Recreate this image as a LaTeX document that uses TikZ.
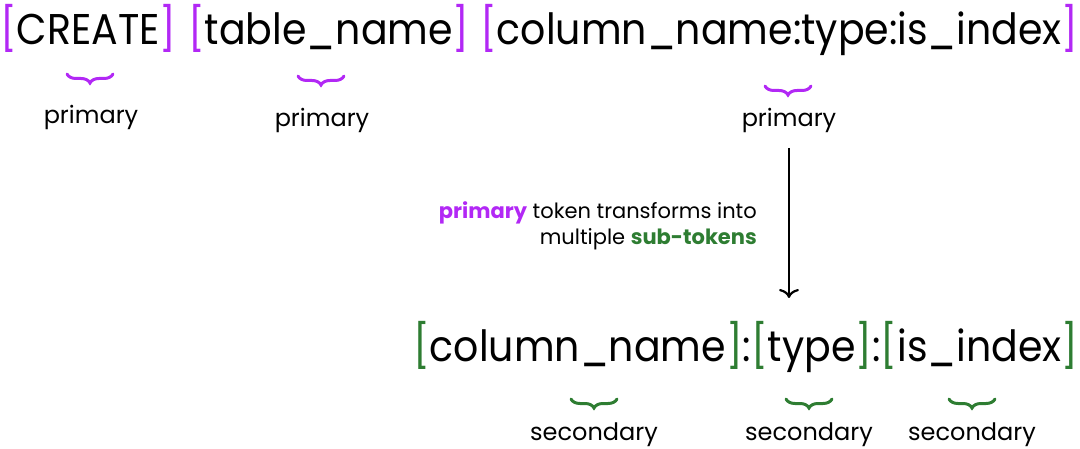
\documentclass[tikz,border=0pt]{standalone}
\usepackage{fontspec}
\setmainfont{Poppins}
\newfontfamily\bigfont[FakeStretch=0.918]{Poppins}
\usetikzlibrary{decorations.pathreplacing,arrows.meta}
\definecolor{pur}{RGB}{178,40,245}
\definecolor{grn}{RGB}{46,125,50}
\begin{document}
\begin{tikzpicture}[x=1pt,y=-1pt,
  big/.style={font=\bigfont\fontsize{43}{50}\selectfont, inner sep=0pt, anchor=base west},
  lbl/.style={font=\fontsize{24}{28}\selectfont, inner sep=0pt, anchor=base},
  note/.style={font=\fontsize{21}{26}\selectfont, inner sep=0pt, align=right},
  pbrace/.style={draw=pur, line width=3pt, line cap=round, decorate, decoration={brace, amplitude=9pt, aspect=0.5, mirror}},
  gbrace/.style={draw=grn, line width=3pt, line cap=round, decorate, decoration={brace, amplitude=9pt, aspect=0.5, mirror}},
  arr/.style={line width=2.2pt, -{To[length=9pt,width=20pt,line width=2.2pt]}}
]
\useasboundingbox (0,0) rectangle (1080,449);
\node[big] (t1) at (0,45) {\textcolor{pur}{[}CREATE\textcolor{pur}{]}};
\node[big] (t2) at (188,45) {\textcolor{pur}{[}table\_name\textcolor{pur}{]}};
\node[big] (t3) at (480,45) {\textcolor{pur}{[}column\_name:type:is\_index\textcolor{pur}{]}};
\node[lbl] (p1) at (91,124) {primary};
\node[lbl] (p2) at (322,127) {primary};
\node[lbl] (p3) at (789,127) {primary};
\coordinate (b1l) at (67,74); \coordinate (b1r) at (113,74);
\coordinate (b2l) at (298,76); \coordinate (b2r) at (344,76);
\coordinate (b3l) at (765,86); \coordinate (b3r) at (811,86);
\draw[pbrace] (b1l) -- (b1r);
\draw[pbrace] (b2l) -- (b2r);
\draw[pbrace] (b3l) -- (b3r);
\coordinate (a1) at (789,148);
\coordinate (a2) at (789,298);
\draw[arr] (a1) -- (a2);
\node[note, anchor=north east] (n) at (757,201) {\textcolor{pur}{\bfseries primary} token transforms into\\ multiple \textcolor{grn}{\bfseries sub-tokens}};
\node[big] (bot) at (413,362) {\textcolor{grn}{[}column\_name\textcolor{grn}{]}:\textcolor{grn}{[}type\textcolor{grn}{]}:\textcolor{grn}{[}is\_index\textcolor{grn}{]}};
\coordinate (c1l) at (571,399); \coordinate (c1r) at (617,399);
\coordinate (c2l) at (786,399); \coordinate (c2r) at (832,399);
\coordinate (c3l) at (949,399); \coordinate (c3r) at (995,399);
\draw[gbrace] (c1l) -- (c1r);
\draw[gbrace] (c2l) -- (c2r);
\draw[gbrace] (c3l) -- (c3r);
\node[lbl] (s1) at (594,440) {secondary};
\node[lbl] (s2) at (809,440) {secondary};
\node[lbl] (s3) at (972,440) {secondary};
\end{tikzpicture}
\end{document}
